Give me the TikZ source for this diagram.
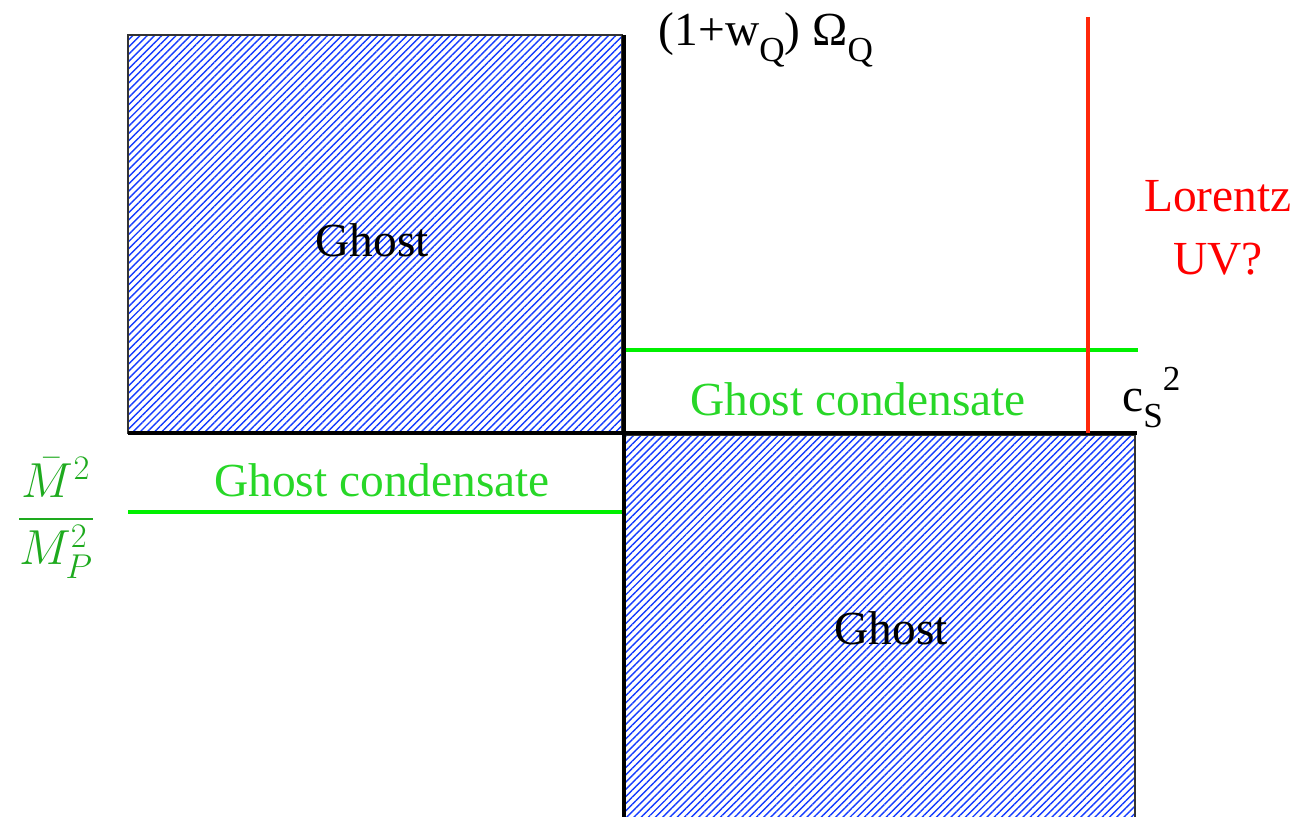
\RequirePackage{fix-cm}
\documentclass[tikz,border=0pt]{standalone}
\usepackage{fontspec}
\setmainfont{Liberation Serif}
\usepackage{amsmath}
\usetikzlibrary{patterns.meta}
\definecolor{condline}{RGB}{0,240,0}
\definecolor{condtext}{RGB}{40,215,40}
\definecolor{massgreen}{RGB}{30,170,30}
\definecolor{uvred}{RGB}{255,40,10}
\definecolor{hatchblue}{RGB}{20,60,255}
\newcommand{\lowsub}[1]{\raisebox{-0.32em}{\fontsize{20}{20}\selectfont #1}}

\begin{document}
\begin{tikzpicture}[
  x=0.02cm, y=-0.02cm,
  lbl/.style={font=\fontsize{27}{31}\selectfont, inner sep=0pt, align=center},
  ghostbox/.style={draw=black!80, line width=0.8pt,
    pattern={Lines[angle=45, distance=2.9pt, line width=0.8pt]}, pattern color=hatchblue},
  axis/.style={line width=1.8pt, black},
  cond/.style={line width=2.4pt, condline},
  uvline/.style={line width=2.4pt, uvred}
]
\useasboundingbox (0,0) rectangle (1299,817);
% hatched regions
\draw[ghostbox] (128,35) rectangle (622,433);
\draw[ghostbox] (625,435) -- (1135,435) -- (1135,820) -- (625,820);
% axes
\coordinate (top) at (624,35);
\coordinate (bottom) at (624,817);
\coordinate (left) at (128,433);
\coordinate (right) at (1137,433);
\draw[axis] (top) -- (bottom);
\draw[axis] (left) -- (right);
% condensate lines
\coordinate (c1a) at (626,350);
\coordinate (c1b) at (1138,350);
\coordinate (c2a) at (128,512);
\coordinate (c2b) at (622,512);
\draw[cond] (c1a) -- (c1b);
\draw[cond] (c2a) -- (c2b);
% Lorentz line
\coordinate (uvtop) at (1088,17);
\coordinate (uvbot) at (1088,433);
\draw[uvline] (uvtop) -- (uvbot);
% labels
\node[lbl] (ghostA) at (372,240) {Ghost};
\node[lbl] (ghostB) at (891,628) {Ghost};
\node[lbl, text=condtext] (condA) at (858,399) {Ghost condensate};
\node[lbl, text=condtext] (condB) at (382,480) {Ghost condensate};
\node[lbl, anchor=base] (omega) at (766,46) {(1+w\lowsub{Q}) Ω\lowsub{Q}};
\node[lbl, anchor=base west] (cs) at (1122,412) {c\lowsub{S}\raisebox{0.45em}{\fontsize{20}{20}\selectfont 2}};
\node[lbl, text=red, font=\fontsize{27}{36}\selectfont] (lorentz) at (1218,228) {Lorentz\\UV?};
\node[inner sep=0pt, text=massgreen, font=\fontsize{28}{32}\selectfont] (mass) at (56,518) {$\displaystyle\frac{\bar{M}^2}{M_P^2}$};
\end{tikzpicture}
\end{document}
